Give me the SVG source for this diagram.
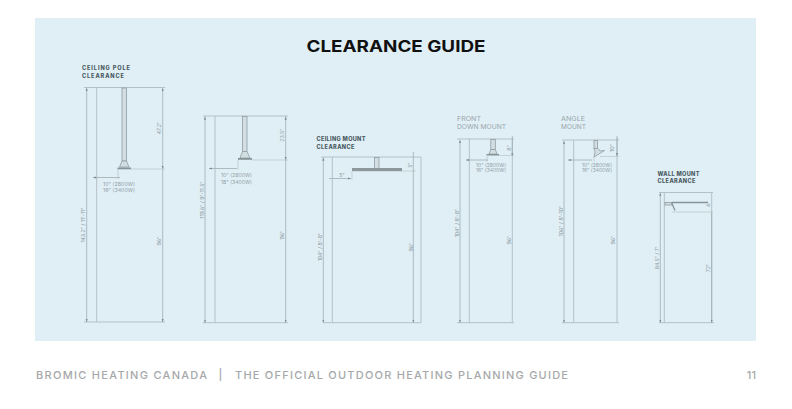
<svg xmlns="http://www.w3.org/2000/svg" width="792" height="409" viewBox="0 0 792 409">
<style>
text{font-family:"Inter","Liberation Sans",sans-serif}
.t{font-size:16px;font-weight:700;fill:#111}
.f{font-size:11px;font-weight:500;fill:#a6a8aa}
.h{font-size:5.6px;font-weight:800;fill:#4a5a62}
.m{font-size:6.6px;font-weight:400;fill:#99a5ab}
.d{font-size:5px;fill:#93a0a6}
.r{font-size:5.2px;fill:#8c999f;text-anchor:middle}
.w{stroke:#b4c0c5;stroke-width:1;fill:none}
.l{stroke:#a0adb2;stroke-width:.8;fill:none}
.g{stroke:#b2bec3;stroke-width:.6;fill:none}
.p{stroke:#8f9ca2;stroke-width:.8;fill:#d3dee3}
.s{fill:#86949a}
.a{fill:#7d8a90}
</style>
<defs>
<marker id="ah" viewBox="0 0 6 6" refX="6" refY="3" markerWidth="4" markerHeight="4" orient="auto-start-reverse"><path d="M0 1L6 3L0 5z" class="a"/></marker>
</defs>
<rect width="792" height="409" fill="#fff"/>
<rect x="35" y="18" width="721" height="323" fill="#e0eff6"/>
<text class="t" x="396" y="52" text-anchor="middle" textLength="179" lengthAdjust="spacingAndGlyphs">CLEARANCE GUIDE</text>

<g id="ceiling-pole">
<text class="h" x="82" y="70" textLength="48" lengthAdjust="spacing">CEILING POLE</text>
<text class="h" x="82" y="78" textLength="42" lengthAdjust="spacing">CLEARANCE</text>
<path class="w" d="M84 87.500H165M96.700 87.500V322M84 322H165"/>
<path class="l" d="M86.700 88V322" marker-start="url(#ah)" marker-end="url(#ah)"/>
<path class="l" d="M162.700 88V169" marker-start="url(#ah)" marker-end="url(#ah)"/>
<path class="l" d="M162.700 169V322" marker-end="url(#ah)"/>
<path class="g" d="M131 169H165"/>
<rect class="p" x="122" y="88" width="4.500" height="73"/>
<path class="p" d="M122 161H126.500L129 167H119.500z"/>
<rect class="s" x="117.500" y="167.500" width="13.500" height="1.800"/>
<path class="l" d="M93 177.500H120" marker-start="url(#ah)"/>
<path class="g" d="M118 169V179"/>
<text class="d" x="103" y="186" textLength="32" lengthAdjust="spacingAndGlyphs">10" (2800W)</text>
<text class="d" x="103" y="191.500" textLength="32" lengthAdjust="spacingAndGlyphs">16" (3400W)</text>
<text class="r" transform="translate(85 225) rotate(-90)">143.2" / 11'-11"</text>
<text class="r" transform="translate(161 128) rotate(-90)">47.2"</text>
<text class="r" transform="translate(161 241) rotate(-90)">96"</text>
</g>

<g id="ceiling-pole-short">
<path class="w" d="M203 116H288M215 116V322.700M203 322.700H288"/>
<path class="l" d="M205 116.500V322.700" marker-start="url(#ah)" marker-end="url(#ah)"/>
<path class="l" d="M285.700 116.500V160" marker-start="url(#ah)" marker-end="url(#ah)"/>
<path class="l" d="M285.700 160V322.700" marker-end="url(#ah)"/>
<path class="g" d="M252 160H288"/>
<rect class="p" x="242.500" y="116.500" width="4.500" height="35"/>
<path class="p" d="M242.500 151.500H247L250 158H240z"/>
<rect class="s" x="238" y="158" width="14" height="1.800"/>
<path class="l" d="M209 168.500H237" marker-start="url(#ah)"/>
<path class="g" d="M238 160V170"/>
<text class="d" x="221" y="177" textLength="31" lengthAdjust="spacingAndGlyphs">10" (2800W)</text>
<text class="d" x="221" y="183.500" textLength="31" lengthAdjust="spacingAndGlyphs">18" (3400W)</text>
<text class="r" transform="translate(204 200) rotate(-90)">119.6" / 9'-11.5"</text>
<text class="r" transform="translate(284 135) rotate(-90)">23.5"</text>
<text class="r" transform="translate(284 235) rotate(-90)">96"</text>
</g>

<g id="ceiling-mount">
<text class="h" x="316.500" y="140.500" textLength="49" lengthAdjust="spacing">CEILING MOUNT</text>
<text class="h" x="316.500" y="148.500" textLength="38" lengthAdjust="spacing">CLEARANCE</text>
<path class="w" d="M321 157H421M332.300 157V322.700M323 322.700H421M421 157V322.700"/>
<path class="l" d="M323.300 157.500V322.700" marker-start="url(#ah)" marker-end="url(#ah)"/>
<path class="l" d="M413.300 152V322.700" marker-end="url(#ah)"/>
<path class="g" d="M402 171H416"/>
<rect class="p" x="374.500" y="157.500" width="4.500" height="11"/>
<rect x="352" y="168" width="50" height="3.200" fill="#8d989c"/>
<path class="l" d="M329 178.500H351" marker-end="url(#ah)"/>
<path class="g" d="M352 171V180"/>
<text class="r" x="342" y="176.500">5"</text>
<text class="r" transform="translate(412 165) rotate(-90)">5"</text>
<text class="r" transform="translate(322 247) rotate(-90)">104" / 8'-8"</text>
<text class="r" transform="translate(412.500 247) rotate(-90)">96"</text>
</g>

<g id="front-down-mount">
<text class="m" x="457" y="121" textLength="24" lengthAdjust="spacingAndGlyphs">FRONT</text>
<text class="m" x="457" y="129" textLength="49" lengthAdjust="spacingAndGlyphs">DOWN MOUNT</text>
<path class="w" d="M457 139H514M469.300 139V322.700M457 322.700H514M512.300 139V322.700"/>
<path class="l" d="M460 140V322.700" marker-start="url(#ah)" marker-end="url(#ah)"/>
<path class="l" d="M512.300 136V156" marker-end="url(#ah)"/>
<path class="g" d="M498 155.500H514"/>
<rect class="p" x="490.800" y="139.500" width="4.500" height="10"/>
<path class="p" d="M490.800 149.500H495.300L497 154H489z"/>
<rect class="s" x="486.500" y="154" width="12.500" height="1.500"/>
<path class="l" d="M466 160H488" marker-start="url(#ah)"/>
<path class="g" d="M487 156V162"/>
<text class="d" x="476" y="166.500" textLength="30" lengthAdjust="spacingAndGlyphs">10" (2800W)</text>
<text class="d" x="476" y="172" textLength="30" lengthAdjust="spacingAndGlyphs">16" (3400W)</text>
<text class="r" transform="translate(459 223) rotate(-90)">104" / 8'-8"</text>
<text class="r" transform="translate(511 148) rotate(-90)">8"</text>
<text class="r" transform="translate(510.500 240) rotate(-90)">96"</text>
</g>

<g id="angle-mount">
<text class="m" x="561" y="121" textLength="24" lengthAdjust="spacingAndGlyphs">ANGLE</text>
<text class="m" x="561" y="129" textLength="25" lengthAdjust="spacingAndGlyphs">MOUNT</text>
<path class="w" d="M562 140H619M573.700 140V322.700M562 322.700H619M617 138V322.700"/>
<path class="l" d="M564 141V322.700" marker-start="url(#ah)" marker-end="url(#ah)"/>
<path class="l" d="M617 136V156" marker-end="url(#ah)"/>
<path class="g" d="M600 156.500H619"/>
<rect class="p" x="594" y="140.500" width="3.500" height="8"/>
<path class="p" d="M594 148.500H598L600 151L604.500 150.500L594 157L595 152z"/>
<path class="l" d="M568 160H592" marker-start="url(#ah)"/>
<path class="g" d="M594 157V162"/>
<text class="d" x="582" y="167" textLength="30" lengthAdjust="spacingAndGlyphs">10" (2800W)</text>
<text class="d" x="582" y="172" textLength="30" lengthAdjust="spacingAndGlyphs">16" (3400W)</text>
<text class="r" transform="translate(562.500 221) rotate(-90)">106" / 8'-10"</text>
<text class="r" transform="translate(614 148) rotate(-90)">10"</text>
<text class="r" transform="translate(614.500 240) rotate(-90)">96"</text>
</g>

<g id="wall-mount">
<text class="h" x="657.500" y="175.500" textLength="42" lengthAdjust="spacing">WALL MOUNT</text>
<text class="h" x="657.500" y="182.500" textLength="38" lengthAdjust="spacing">CLEARANCE</text>
<path class="w" d="M659 192.500H713M664.300 192.500V322.700M659 322.700H714M711.700 192V322.700"/>
<path class="l" d="M660.300 193V322.700" marker-start="url(#ah)" marker-end="url(#ah)"/>
<path class="l" d="M711.700 212V322.700" marker-end="url(#ah)"/>
<path class="g" d="M672 212H713"/>
<rect class="p" x="665" y="202.500" width="7" height="2.500"/>
<path d="M672 202.500H708M671.500 202.500L675 210.500" stroke="#86949a" stroke-width="1.300" fill="none"/>
<text class="r" transform="translate(710 204) rotate(-90)">6"</text>
<text class="r" transform="translate(658.500 258) rotate(-90)">84.5" / 7'</text>
<text class="r" transform="translate(710 268) rotate(-90)">72"</text>
</g>

<text class="f" x="36" y="379" textLength="171" lengthAdjust="spacing">BROMIC HEATING CANADA</text>
<text class="f" x="220.500" y="379" text-anchor="middle">|</text>
<text class="f" x="235" y="379" textLength="333" lengthAdjust="spacing">THE OFFICIAL OUTDOOR HEATING PLANNING GUIDE</text>
<text class="f" x="756" y="379" text-anchor="end">11</text>
</svg>
